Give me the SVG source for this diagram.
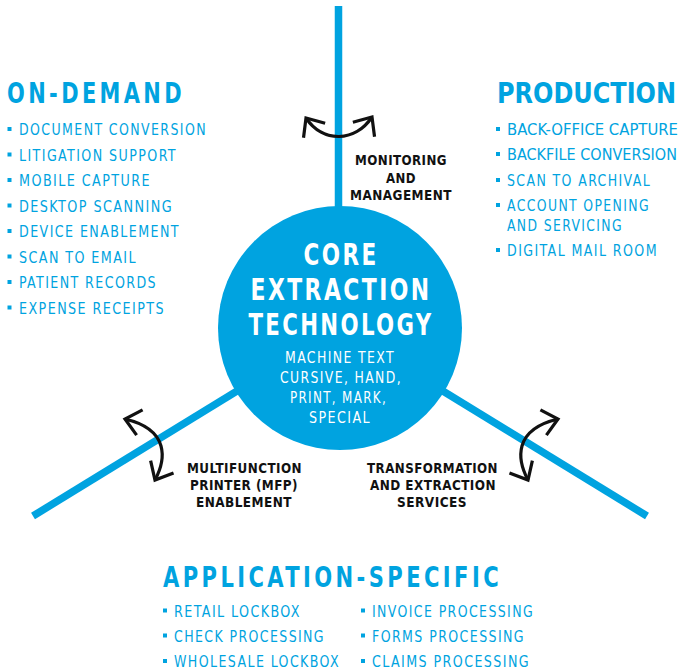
<svg xmlns="http://www.w3.org/2000/svg" width="682" height="672" viewBox="0 0 682 672">
<style>
text{font-family:"Liberation Sans Narrow","DejaVu Sans Condensed","Roboto Condensed",sans-serif;}
.h{font-size:27.5px;font-weight:bold;fill:#00A3E0;letter-spacing:4px;}
.li{font-size:15px;fill:#00A3E0;letter-spacing:1.5px;}
.tight{letter-spacing:0;}
.b{fill:#00A3E0;}
.lbl{font-size:14.8px;font-weight:bold;fill:#111;text-anchor:middle;letter-spacing:0.5px;}
.core{font-size:30px;font-weight:bold;fill:#fff;text-anchor:middle;letter-spacing:3px;}
.sub{font-size:15px;fill:#fff;text-anchor:middle;letter-spacing:1.5px;}
.spoke{stroke:#00A3E0;stroke-width:7.5;fill:none;}
.arr{stroke:#111;stroke-width:3.2;fill:none;marker-start:url(#ah);marker-end:url(#ah);}
</style>
<defs>
<marker id="ah" markerUnits="userSpaceOnUse" markerWidth="40" markerHeight="40" viewBox="-20 -20 40 40" refX="0" refY="0" orient="auto-start-reverse" overflow="visible">
<path d="M-15,-13 L0,0 L-15,13" fill="none" stroke="#111" stroke-width="3.2"/>
</marker>
</defs>
<g id="connectors">
<line class="spoke" x1="338.5" y1="6" x2="338.5" y2="328"/>
<line class="spoke" x1="340" y1="328" x2="33" y2="516"/>
<line class="spoke" x1="340" y1="328" x2="647" y2="516"/>
<path class="arr" d="M306,118 C322.9,143.3 355.2,142.3 372,117"/>
<path class="arr" d="M125,419 C170.3,429.7 165.7,460 155,480"/>
<path class="arr" d="M558,419 C512.7,429.7 517.3,460 528,480"/>
</g>
<g id="core">
<circle cx="340" cy="328" r="122" fill="#00A3E0"/>
<text class="core" x="341" y="265" textLength="75" lengthAdjust="spacingAndGlyphs">CORE</text>
<text class="core" x="341" y="300" textLength="181" lengthAdjust="spacingAndGlyphs">EXTRACTION</text>
<text class="core" x="341" y="335" textLength="185" lengthAdjust="spacingAndGlyphs">TECHNOLOGY</text>
<text class="sub" x="340" y="363" textLength="110" lengthAdjust="spacingAndGlyphs">MACHINE TEXT</text>
<text class="sub" x="341" y="383" textLength="122" lengthAdjust="spacingAndGlyphs">CURSIVE, HAND,</text>
<text class="sub" x="338.5" y="403" textLength="97" lengthAdjust="spacingAndGlyphs">PRINT, MARK,</text>
<text class="sub" x="340" y="423" textLength="62" lengthAdjust="spacingAndGlyphs">SPECIAL</text>
</g>
<g id="monitoring">
<text class="lbl" x="401" y="165" textLength="92" lengthAdjust="spacingAndGlyphs">MONITORING</text>
<text class="lbl" x="401" y="182.5" textLength="30" lengthAdjust="spacingAndGlyphs">AND</text>
<text class="lbl" x="401" y="200" textLength="102" lengthAdjust="spacingAndGlyphs">MANAGEMENT</text>
</g>
<g id="mfp">
<text class="lbl" x="244.5" y="473" textLength="115" lengthAdjust="spacingAndGlyphs">MULTIFUNCTION</text>
<text class="lbl" x="244" y="490" textLength="108" lengthAdjust="spacingAndGlyphs">PRINTER (MFP)</text>
<text class="lbl" x="244" y="507" textLength="96" lengthAdjust="spacingAndGlyphs">ENABLEMENT</text>
</g>
<g id="transformation">
<text class="lbl" x="432.5" y="473" textLength="131" lengthAdjust="spacingAndGlyphs">TRANSFORMATION</text>
<text class="lbl" x="433" y="490" textLength="126" lengthAdjust="spacingAndGlyphs">AND EXTRACTION</text>
<text class="lbl" x="432" y="507" textLength="70" lengthAdjust="spacingAndGlyphs">SERVICES</text>
</g>
<g id="on-demand">
<text class="h" x="7" y="103" textLength="178" lengthAdjust="spacingAndGlyphs">ON-DEMAND</text>
<rect class="b" x="7.5" y="127" width="4" height="4"/><text class="li" x="19" y="135" textLength="188" lengthAdjust="spacingAndGlyphs">DOCUMENT CONVERSION</text>
<rect class="b" x="7.5" y="152.5" width="4" height="4"/><text class="li" x="19" y="160.5" textLength="158" lengthAdjust="spacingAndGlyphs">LITIGATION SUPPORT</text>
<rect class="b" x="7.5" y="178" width="4" height="4"/><text class="li" x="19" y="186" textLength="132" lengthAdjust="spacingAndGlyphs">MOBILE CAPTURE</text>
<rect class="b" x="7.5" y="203.5" width="4" height="4"/><text class="li" x="19" y="211.5" textLength="154" lengthAdjust="spacingAndGlyphs">DESKTOP SCANNING</text>
<rect class="b" x="7.5" y="229" width="4" height="4"/><text class="li" x="19" y="237" textLength="161" lengthAdjust="spacingAndGlyphs">DEVICE ENABLEMENT</text>
<rect class="b" x="7.5" y="254.5" width="4" height="4"/><text class="li" x="19" y="262.5" textLength="118" lengthAdjust="spacingAndGlyphs">SCAN TO EMAIL</text>
<rect class="b" x="7.5" y="280" width="4" height="4"/><text class="li" x="19" y="288" textLength="138" lengthAdjust="spacingAndGlyphs">PATIENT RECORDS</text>
<rect class="b" x="7.5" y="305.5" width="4" height="4"/><text class="li" x="19" y="313.5" textLength="146" lengthAdjust="spacingAndGlyphs">EXPENSE RECEIPTS</text>
</g>
<g id="production">
<text class="h tight" x="497" y="103" font-size="26" textLength="179" lengthAdjust="spacingAndGlyphs">PRODUCTION</text>
<rect class="b" x="496" y="127" width="4" height="4"/><text class="li tight" x="507" y="135" font-size="14" textLength="171" lengthAdjust="spacingAndGlyphs">BACK-OFFICE CAPTURE</text>
<rect class="b" x="496" y="152" width="4" height="4"/><text class="li tight" x="507" y="160" font-size="14" textLength="170" lengthAdjust="spacingAndGlyphs">BACKFILE CONVERSION</text>
<rect class="b" x="496" y="178" width="4" height="4"/><text class="li" x="507" y="186" textLength="144" lengthAdjust="spacingAndGlyphs">SCAN TO ARCHIVAL</text>
<rect class="b" x="496" y="203" width="4" height="4"/><text class="li" x="507" y="211" textLength="143" lengthAdjust="spacingAndGlyphs">ACCOUNT OPENING</text>
<text class="li" x="507" y="231" textLength="116" lengthAdjust="spacingAndGlyphs">AND SERVICING</text>
<rect class="b" x="496" y="248" width="4" height="4"/><text class="li" x="507" y="256" textLength="151" lengthAdjust="spacingAndGlyphs">DIGITAL MAIL ROOM</text>
</g>
<g id="application-specific">
<text class="h" x="163" y="587" textLength="339" lengthAdjust="spacingAndGlyphs">APPLICATION-SPECIFIC</text>
<rect class="b" x="163" y="608.5" width="4" height="4"/><text class="li" x="174" y="616.5" textLength="127" lengthAdjust="spacingAndGlyphs">RETAIL LOCKBOX</text>
<rect class="b" x="163" y="633.5" width="4" height="4"/><text class="li" x="174" y="641.5" textLength="151" lengthAdjust="spacingAndGlyphs">CHECK PROCESSING</text>
<rect class="b" x="163" y="659" width="4" height="4"/><text class="li" x="174" y="667" textLength="166" lengthAdjust="spacingAndGlyphs">WHOLESALE LOCKBOX</text>
<rect class="b" x="361" y="608.5" width="4" height="4"/><text class="li" x="372" y="616.5" textLength="162" lengthAdjust="spacingAndGlyphs">INVOICE PROCESSING</text>
<rect class="b" x="361" y="633.5" width="4" height="4"/><text class="li" x="372" y="641.5" textLength="153" lengthAdjust="spacingAndGlyphs">FORMS PROCESSING</text>
<rect class="b" x="361" y="659" width="4" height="4"/><text class="li" x="372" y="667" textLength="158" lengthAdjust="spacingAndGlyphs">CLAIMS PROCESSING</text>
</g>
</svg>
